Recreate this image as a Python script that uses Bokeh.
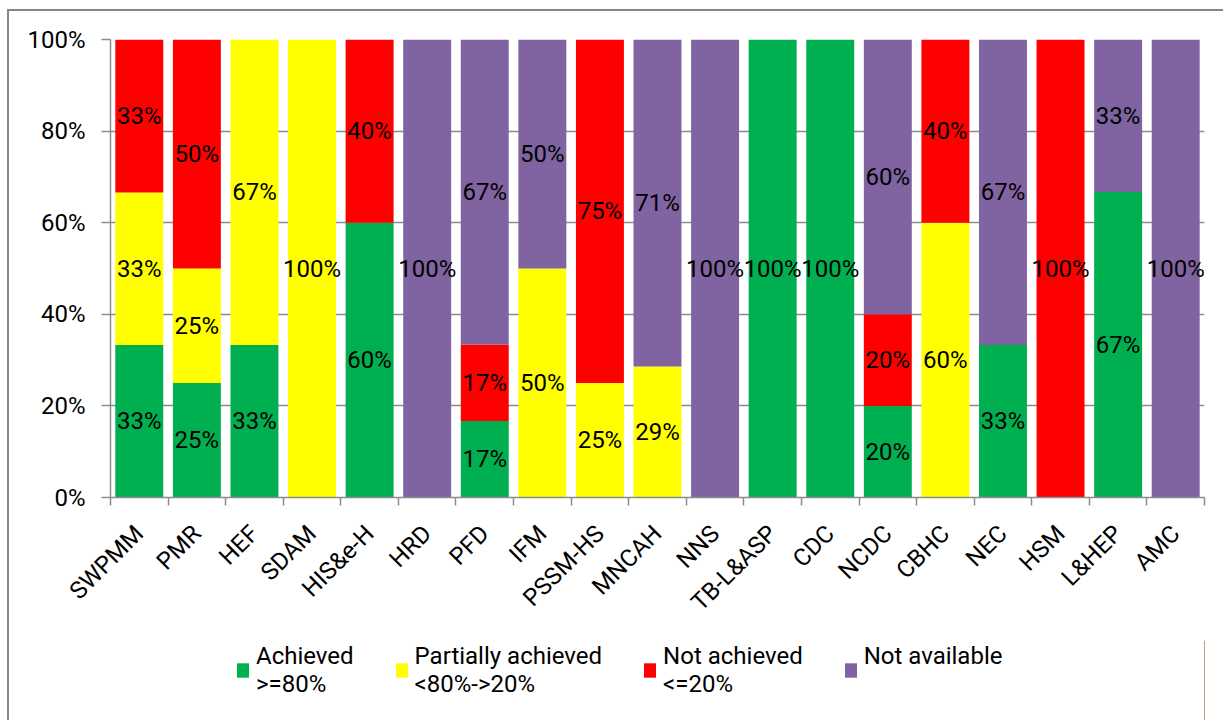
from bokeh.plotting import figure
from bokeh.layouts import column
from bokeh.models import (ColumnDataSource, Range1d, FixedTicker, PrintfTickFormatter,
                          Legend, LegendItem)
from bokeh.embed import file_html
from bokeh.resources import INLINE
from bokeh.core.properties import value

categories = ["SWPMM", "PMR", "HEF", "SDAM", "HIS&e-H", "HRD", "PFD", "IFM", "PSSM-HS",
              "MNCAH", "NNS", "TB-L&ASP", "CDC", "NCDC", "CBHC", "NEC", "HSM", "L&HEP", "AMC"]
achieved = [33.3, 25, 33.3, 0, 60, 0, 16.7, 0, 0, 0, 0, 100, 100, 20, 0, 33.3, 0, 66.7, 0]
partially_achieved = [33.3, 25, 66.7, 100, 0, 0, 0, 50, 25, 28.6, 0, 0, 0, 0, 60, 0, 0, 0, 0]
not_achieved = [33.4, 50, 0, 0, 40, 0, 16.7, 0, 75, 0, 0, 0, 0, 20, 40, 0, 100, 0, 0]
not_available = [0, 0, 0, 0, 0, 100, 66.6, 50, 0, 71.4, 100, 0, 0, 60, 0, 66.7, 0, 33.3, 100]
series_labels = ["Achieved\n>=80%", "Partially achieved\n<80%->20%", "Not achieved\n<=20%", "Not available\n "]
series_colors = ["#00B050", "#FFFF00", "#FF0000", "#8064A2"]
y_ticks = [0, 20, 40, 60, 80, 100]

FONT = "Roboto"
FS = "24px"
GRAY = "#8c8c8c"

n = len(categories)
xs = [i + 0.5 for i in range(n)]
keys = ["achieved", "partially_achieved", "not_achieved", "not_available"]
series = [achieved, partially_achieved, not_achieved, not_available]
src = ColumnDataSource(dict(x=xs, cat=categories, **{k: v for k, v in zip(keys, series)}))

# page offset of canvas: (9, 11) because of margin + 2px border
p = figure(width=1214, height=629, x_range=Range1d(0, n), y_range=Range1d(0, 100),
           output_backend="svg", toolbar_location=None,
           min_border_left=101, min_border_right=19, min_border_top=28, min_border_bottom=143)
p.outline_line_color = None
p.background_fill_color = "white"
p.border_fill_color = "white"

rs = p.vbar_stack(keys, x="x", width=0.833, color=series_colors, line_color=None, source=src)

# segment labels
lx, ly, lt = [], [], []
bottoms = [0.0] * n
for vals in series:
    for i, v in enumerate(vals):
        if v > 0:
            lx.append(xs[i])
            ly.append(bottoms[i] + v / 2)
            lt.append(f"{round(v)}%")
        bottoms[i] += v
p.text(x=lx, y=ly, text=lt, text_align="center", text_baseline="middle",
       text_font=value(FONT), text_font_size=FS, text_color="black")

# grid
p.xgrid.visible = False
p.ygrid.ticker = FixedTicker(ticks=y_ticks)
p.ygrid.grid_line_color = GRAY
p.ygrid.grid_line_width = 1.5
p.ygrid.level = "underlay"

# y axis
p.yaxis.ticker = FixedTicker(ticks=y_ticks)
p.yaxis.formatter = PrintfTickFormatter(format="%d%%")
p.yaxis.axis_line_color = GRAY
p.yaxis.axis_line_width = 1.5
p.yaxis.major_tick_line_color = GRAY
p.yaxis.major_tick_line_width = 1.5
p.yaxis.major_tick_out = 9
p.yaxis.major_tick_in = 0
p.yaxis.minor_tick_line_color = None
p.yaxis.major_label_standoff = 16
p.yaxis.major_label_text_font = FONT
p.yaxis.major_label_text_font_size = FS
p.yaxis.major_label_text_color = "black"

# x axis
p.xaxis.ticker = FixedTicker(ticks=xs, minor_ticks=list(range(n + 1)))
p.xaxis.major_label_overrides = {x: c for x, c in zip(xs, categories)}
p.xaxis.axis_line_color = GRAY
p.xaxis.axis_line_width = 1.5
p.xaxis.major_tick_line_color = None
p.xaxis.major_tick_out = 0
p.xaxis.major_tick_in = 0
p.xaxis.minor_tick_line_color = GRAY
p.xaxis.minor_tick_line_width = 1.5
p.xaxis.minor_tick_out = 8
p.xaxis.minor_tick_in = 0
p.xaxis.major_label_orientation = 0.785398
p.xaxis.major_label_standoff = 24
p.xaxis.major_label_text_font = FONT
p.xaxis.major_label_text_font_size = FS
p.xaxis.major_label_text_color = "black"

# legend figure
pl = figure(width=1214, height=80, x_range=Range1d(0, 1), y_range=Range1d(0, 1),
            output_backend="svg", toolbar_location=None, min_border=0)
pl.axis.visible = False
pl.grid.visible = False
pl.outline_line_color = None
pl.background_fill_color = "white"
pl.border_fill_color = "white"
legend_renderers = [pl.vbar(x=[10], top=[10], width=0.5, color=c, line_color=None) for c in series_colors]
legend = Legend(items=[LegendItem(label=lab, renderers=[r]) for lab, r in zip(series_labels, legend_renderers)],
                orientation="horizontal", location=(125, 22), padding=0, margin=0,
                spacing=40, glyph_width=15, glyph_height=18, label_standoff=6,
                label_text_font=FONT, label_text_font_size=FS, label_text_color="black",
                border_line_color=None, background_fill_alpha=0)
pl.add_layout(legend, "center")

layout = column(p, pl, spacing=0)
layout.margin = (9, 0, 0, 7)
layout.styles = {"border-left": "2px solid #868686", "border-top": "2px solid #868686"}

open("out.html", "w").write(file_html(layout, INLINE))
